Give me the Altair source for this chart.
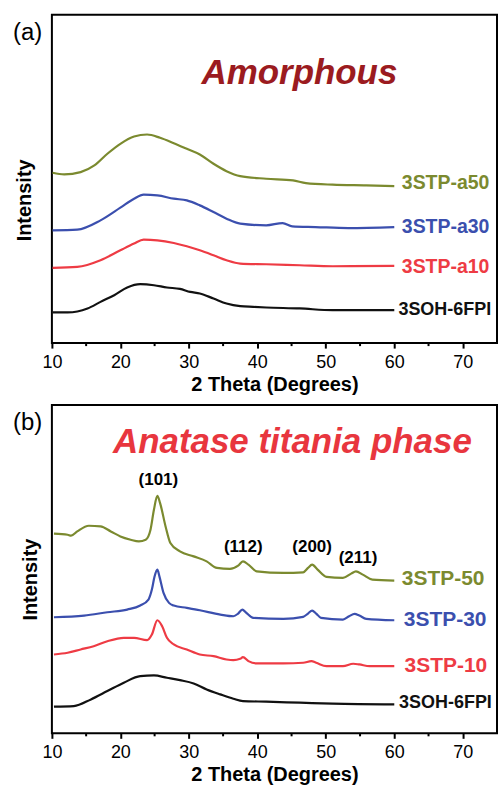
import altair as alt
import pandas as pd

FONT = "Liberation Sans"
OLIVE = "#7b8a2f"
BLUE = "#3b4fae"
RED = "#ee3b44"
BLACK = "#111111"

# ---------------- Panel (a): amorphous ----------------
a_black_x = [10.1, 12.3, 15.2, 17.1, 19.1, 21.0, 22.9, 24.9, 26.8, 28.7, 30.2, 31.6, 33.6, 35.5, 37.5, 39.4, 41.3, 46.2, 51.0, 55.9, 60.0]
a_black_y = [30.7, 30.7, 34.7, 41.3, 48.0, 55.7, 59.0, 58.0, 55.7, 54.3, 51.3, 49.7, 44.7, 39.7, 37.0, 36.3, 35.7, 34.7, 33.0, 33.0, 33.0]

a_red_x = [10.1, 13.7, 17.1, 20.0, 22.0, 23.4, 25.4, 27.8, 29.7, 31.6, 33.6, 35.5, 37.5, 41.3, 46.2, 51.0, 60.0]
a_red_y = [75.3, 76.3, 83.0, 93.0, 99.7, 103.7, 103.0, 100.3, 97.0, 93.0, 88.0, 83.0, 79.7, 79.0, 78.0, 77.0, 77.3]

a_blue_x = [10.1, 13.7, 17.1, 20.0, 22.0, 23.4, 25.4, 27.8, 29.7, 31.6, 33.6, 35.5, 37.5, 41.3, 43.7, 45.1, 48.5, 53.3, 60.0]
a_blue_y = [113.0, 113.7, 123.0, 135.7, 144.7, 148.7, 148.0, 144.7, 143.0, 138.0, 131.3, 124.7, 119.7, 118.0, 120.3, 117.0, 116.3, 115.3, 116.3]

a_olive_x = [10.1, 11.8, 14.2, 16.2, 18.1, 20.0, 22.0, 23.9, 25.8, 27.8, 29.7, 31.6, 33.6, 35.5, 37.5, 41.3, 45.2, 47.1, 51.0, 55.9, 60.0]
a_olive_y = [170.7, 169.0, 171.3, 178.0, 189.7, 199.7, 207.0, 209.0, 205.7, 200.3, 194.7, 189.0, 179.7, 172.3, 167.3, 164.7, 163.0, 160.3, 158.7, 158.0, 157.3]

a_labels = ["3STP-a50", "3STP-a30", "3STP-a10", "3SOH-6FPI"]
a_label_x = [61.1, 61.1, 61.1, 60.6]
a_label_y = [160, 116, 76, 33]

# ---------------- Panel (b): anatase ----------------
b_black_x = [10.3, 13.2, 15.7, 18.1, 20.5, 22.9, 24.9, 26.8, 28.7, 30.7, 32.6, 34.6, 36.5, 37.9, 41.3, 46.2, 51.0, 60.0]
b_black_y = [26.7, 27.3, 34.0, 42.3, 50.7, 57.3, 58.0, 55.7, 53.3, 50.0, 44.0, 39.0, 34.7, 32.3, 31.7, 30.7, 29.7, 29.0]

b_red_x = [10.3, 12.3, 14.2, 16.1, 18.1, 20.5, 22.0, 23.9, 24.6, 25.4, 26.1, 26.8, 27.8, 29.7, 31.6, 33.6, 35.5, 36.5, 37.5, 37.9, 38.7, 39.9, 43.8, 46.7, 47.9, 48.6, 50.1, 52.5, 54.0, 54.9, 56.4, 60.0]
b_red_y = [79.0, 80.7, 84.0, 87.3, 92.3, 95.7, 95.7, 93.3, 99.0, 113.3, 107.3, 95.7, 89.0, 84.0, 79.0, 77.3, 74.0, 73.3, 74.7, 76.3, 72.3, 70.0, 70.0, 70.7, 72.3, 70.7, 67.3, 67.3, 69.7, 69.0, 67.3, 67.3]

b_blue_x = [10.3, 14.7, 18.1, 21.0, 22.9, 24.1, 24.6, 25.0, 25.4, 25.7, 26.3, 27.1, 27.8, 29.7, 31.6, 34.6, 36.5, 37.2, 37.8, 38.4, 39.4, 43.8, 46.7, 47.4, 48.0, 48.6, 49.3, 52.5, 53.4, 54.2, 54.9, 55.9, 60.0]
b_blue_y = [116.3, 118.0, 121.3, 124.0, 128.0, 134.0, 144.0, 157.3, 164.0, 157.3, 140.7, 130.7, 128.0, 125.7, 123.3, 119.0, 117.3, 120.0, 124.0, 120.7, 115.7, 114.7, 116.7, 120.0, 123.0, 120.0, 115.7, 114.0, 117.3, 119.7, 118.0, 114.7, 113.3]

b_olive_x = [10.3, 12.3, 12.8, 13.7, 15.4, 17.1, 18.6, 20.0, 21.5, 22.7, 23.7, 24.4, 24.9, 25.4, 25.8, 26.6, 27.3, 28.7, 30.7, 32.6, 34.1, 36.0, 37.2, 37.9, 38.7, 39.9, 43.8, 46.7, 47.4, 48.0, 48.8, 50.1, 52.5, 53.7, 54.4, 55.4, 56.8, 60.0]
b_olive_y = [200.0, 199.0, 198.0, 202.3, 208.0, 207.3, 202.3, 197.3, 194.0, 192.3, 194.0, 204.0, 224.0, 238.0, 230.7, 207.3, 190.7, 182.3, 177.3, 172.3, 165.7, 164.7, 168.0, 172.3, 169.0, 162.3, 160.7, 161.3, 165.7, 169.0, 164.0, 156.7, 155.7, 160.0, 162.3, 159.0, 154.0, 153.0]

b_labels = ["3STP-50", "3STP-30", "3STP-10", "3SOH-6FPI"]
b_label_x = [61.1, 61.4, 61.5, 60.7]
b_label_y = [155, 114, 67, 30]

peak_labels = ["(101)", "(112)", "(200)", "(211)"]
peak_x = [25.55, 37.95, 48.0, 54.7]
peak_y = [254, 187, 187, 176]

x_ticks = [10, 20, 30, 40, 50, 60, 70]
x_minor = [15, 25, 35, 45, 55, 65]

W, H = 446, 329
XDOM = [10, 75]
YDOM = [0, 329]


def lines_df(series):
    rows = []
    for name, xs, ys in series:
        for x, y in zip(xs, ys):
            rows.append({"x": x, "y": y, "s": name})
    return pd.DataFrame(rows)


def panel(series, colors, labels, lx, ly, lsizes, title, tx, ty, tcolor, letter, int_x, int_y, peaks=None):
    xs = alt.Scale(domain=XDOM, nice=False, zero=False)
    ys = alt.Scale(domain=YDOM, nice=False, zero=False)
    df = lines_df(series)
    names = [s[0] for s in series]
    lines = alt.Chart(df).mark_line(strokeWidth=2.2, interpolate="monotone").encode(
        x=alt.X("x:Q", scale=xs,
                axis=alt.Axis(values=x_ticks, title="2 Theta (Degrees)", grid=False, domain=False,
                              tickSize=5, tickWidth=2, tickColor="black",
                              labelFont=FONT, labelFontSize=18, labelColor="black", labelPadding=5,
                              labelFlush=False,
                              titleFont=FONT, titleFontSize=20, titleFontWeight="bold", titleColor="black",
                              titlePadding=3)),
        y=alt.Y("y:Q", scale=ys, axis=None),
        color=alt.Color("s:N", scale=alt.Scale(domain=names, range=colors), legend=None),
        detail="s:N",
    )
    minor = alt.Chart(pd.DataFrame({"t": x_minor})).mark_rule(strokeWidth=2, color="black").encode(
        x=alt.X("t:Q", scale=xs), y=alt.value(H), y2=alt.value(H + 3)
    )
    ldf = pd.DataFrame({"x": lx, "y": ly, "t": labels})
    lab_layers = []
    for i in range(len(labels)):
        lab_layers.append(
            alt.Chart(ldf.iloc[[i]]).mark_text(align="left", baseline="middle", font=FONT,
                                              fontWeight="bold", fontSize=lsizes[i], color=colors[i]).encode(
                x=alt.X("x:Q", scale=xs), y=alt.Y("y:Q", scale=ys), text="t:N")
        )
    ttl = alt.Chart(pd.DataFrame({"t": [title]})).mark_text(
        align="center", baseline="alphabetic", font=FONT, fontWeight="bold",
        fontStyle="italic", fontSize=35, color=tcolor).encode(
        x=alt.value(tx), y=alt.value(ty), text="t:N")
    let = alt.Chart(pd.DataFrame({"t": [letter]})).mark_text(
        align="left", baseline="middle", font=FONT, fontSize=24, color="black").encode(
        x=alt.value(-39), y=alt.value(18), text="t:N")
    inten = alt.Chart(pd.DataFrame({"t": ["Intensity"]})).mark_text(
        align="center", baseline="middle", font=FONT, fontWeight="bold", fontSize=20,
        angle=270, color="black").encode(
        x=alt.value(int_x), y=alt.value(int_y), text="t:N")
    layers = [lines, minor] + lab_layers + [ttl, let, inten]
    if peaks is not None:
        pdf = pd.DataFrame({"x": peaks[1], "y": peaks[2], "t": peaks[0]})
        layers.append(
            alt.Chart(pdf).mark_text(align="center", baseline="middle", font=FONT, fontWeight="bold",
                                     fontSize=17, color="black").encode(
                x=alt.X("x:Q", scale=xs), y=alt.Y("y:Q", scale=ys), text="t:N")
        )
    return alt.layer(*layers).properties(width=W, height=H)


colors = [OLIVE, BLUE, RED, BLACK]

pa = panel(
    [("3STP-a50", a_olive_x, a_olive_y), ("3STP-a30", a_blue_x, a_blue_y),
     ("3STP-a10", a_red_x, a_red_y), ("3SOH-6FPI", a_black_x, a_black_y)],
    colors, a_labels, a_label_x, a_label_y, [19.5, 19.5, 19.5, 18],
    "Amorphous", 248, 69, "#9b1b20", "(a)", -27, 186,
)
pb = panel(
    [("3STP-50", b_olive_x, b_olive_y), ("3STP-30", b_blue_x, b_blue_y),
     ("3STP-10", b_red_x, b_red_y), ("3SOH-6FPI", b_black_x, b_black_y)],
    colors, b_labels, b_label_x, b_label_y, [21, 21, 21, 18],
    "Anatase titania phase", 241, 48, "#e8363e", "(b)", -21, 175,
    peaks=(peak_labels, peak_x, peak_y),
)

chart = alt.vconcat(pa, pb, spacing=62, bounds="flush").properties(
    padding={"left": 12, "top": 13, "right": 0, "bottom": 0}
).configure(background="white").configure_view(stroke="black", strokeWidth=2)

chart.save("out.html", embed_options={"renderer": "svg", "actions": False})
